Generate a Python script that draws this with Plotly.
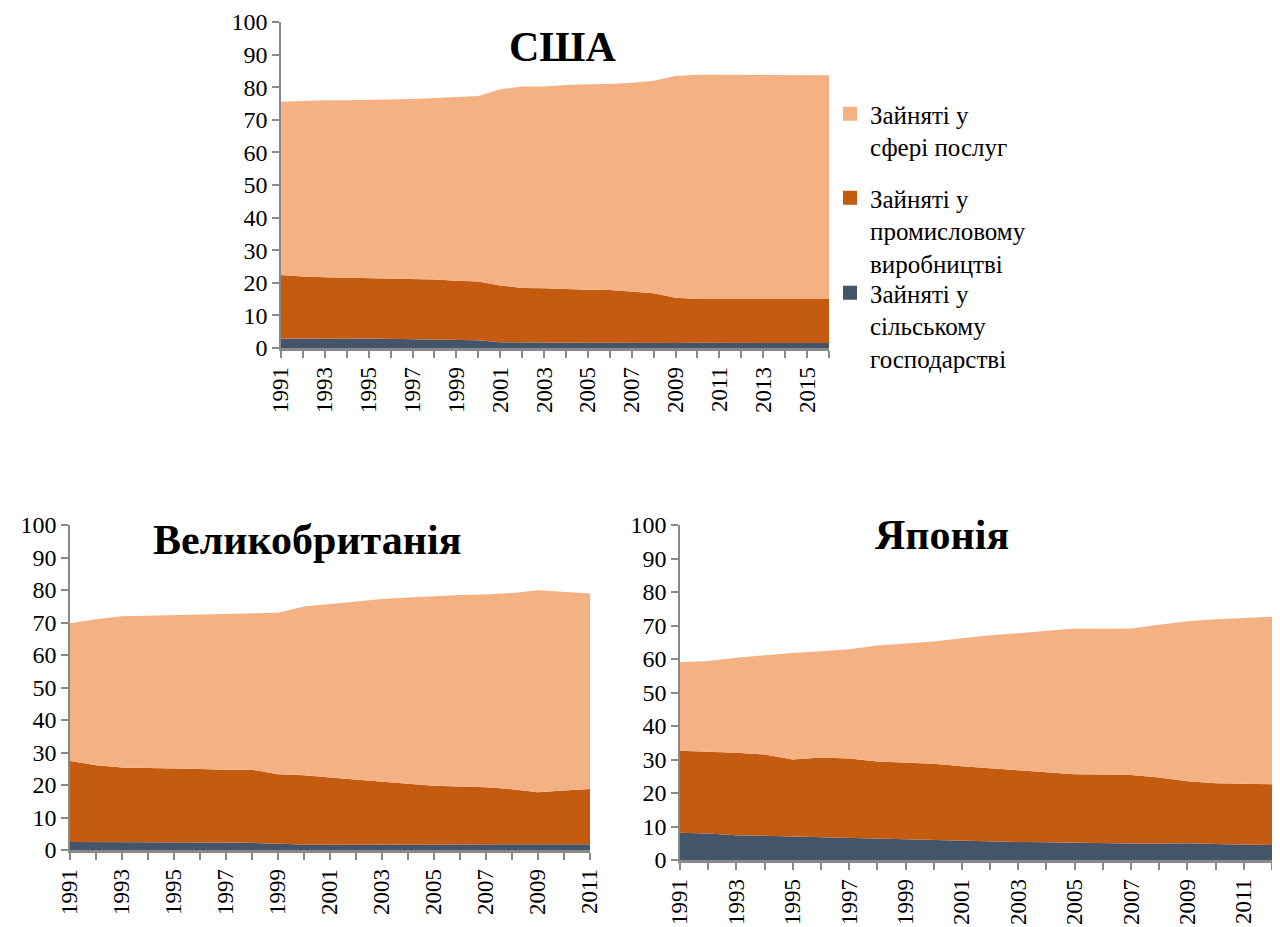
import plotly.graph_objects as go

# ---------------- data ----------------
years_us = list(range(1991, 2017))
us_agri = [2.9, 2.8, 2.8, 2.8, 2.9, 2.8, 2.7, 2.6, 2.5, 2.4, 1.8, 1.7, 1.7, 1.7, 1.6, 1.6,
           1.5, 1.5, 1.5, 1.6, 1.6, 1.5, 1.5, 1.5, 1.5, 1.5]
us_ind = [19.5, 19.1, 18.9, 18.8, 18.5, 18.4, 18.5, 18.4, 18.1, 18.0, 17.4, 16.7, 16.6, 16.3,
          16.3, 16.2, 15.9, 15.3, 13.9, 13.4, 13.4, 13.5, 13.5, 13.5, 13.6, 13.5]
us_serv = [53.1, 53.9, 54.3, 54.4, 54.7, 55.1, 55.2, 55.7, 56.4, 56.9, 60.2, 61.8, 61.9, 62.7,
           63.0, 63.2, 64.0, 65.2, 68.0, 68.8, 68.8, 68.8, 68.8, 68.8, 68.6, 68.7]

years_uk = list(range(1991, 2012))
uk_agri = [2.5, 2.5, 2.5, 2.4, 2.3, 2.3, 2.3, 2.2, 1.9, 1.7, 1.6, 1.6, 1.6, 1.6, 1.7, 1.6,
           1.6, 1.7, 1.8, 1.8, 1.8]
uk_ind = [24.9, 23.6, 22.9, 22.9, 22.9, 22.6, 22.4, 22.5, 21.4, 21.3, 20.7, 20.0, 19.3, 18.8,
          18.1, 17.9, 17.7, 17.0, 16.0, 16.5, 17.0]
uk_serv = [42.4, 44.9, 46.5, 46.8, 47.0, 47.6, 48.0, 48.1, 49.7, 51.9, 53.4, 54.9, 56.3, 57.3,
           58.3, 59.0, 59.3, 60.4, 62.1, 61.1, 60.1]

years_jp = list(range(1991, 2013))
jp_agri = [8.1, 7.9, 7.4, 7.2, 7.0, 6.7, 6.4, 6.3, 6.1, 5.9, 5.7, 5.4, 5.4, 5.3, 5.1, 5.1,
           4.9, 4.9, 5.0, 4.8, 4.7, 4.5]
jp_ind = [24.5, 24.5, 24.6, 24.3, 23.0, 23.9, 23.9, 23.1, 22.9, 22.8, 22.3, 21.9, 21.4, 20.9,
          20.5, 20.4, 20.5, 19.7, 18.5, 18.1, 18.0, 18.1]
jp_serv = [26.4, 27.0, 28.4, 29.7, 31.8, 31.7, 32.6, 34.6, 35.6, 36.5, 38.2, 39.8, 40.9, 42.3,
           43.5, 43.5, 43.7, 45.6, 47.8, 49.0, 49.6, 50.0]

series_names = ["Зайняті у<br>сільському<br>господарстві",
                "Зайняті у<br>промисловому<br>виробництві",
                "Зайняті у<br>сфері послуг"]
titles = ["США", "Великобританія", "Японія"]
y_ticks = [0, 10, 20, 30, 40, 50, 60, 70, 80, 90, 100]

# ---------------- style ----------------
colors = ["#44546A", "#C55A11", "#F4B183"]
FONT = "Liberation Serif"
AXIS_COL = "#898989"

# page has an 8px body margin: figure is placed at (8, 8) and reaches the window edges
W, H, OFF = 1272, 919, 8
def px(xr):
    return (xr - OFF) / W
def py(yr):
    return (H - (yr - OFF)) / H

fig = go.Figure()

panels = [
    (years_us, [us_agri, us_ind, us_serv], "x", "y"),
    (years_uk, [uk_agri, uk_ind, uk_serv], "x2", "y2"),
    (years_jp, [jp_agri, jp_ind, jp_serv], "x3", "y3"),
]
for i, (yrs, vals, xa, ya) in enumerate(panels):
    for name, v, c in zip(series_names, vals, colors):
        fig.add_trace(go.Scatter(
            x=yrs, y=v, name=name, mode="lines", line=dict(width=0, color=c),
            fillcolor=c, stackgroup="s%d" % i, showlegend=False,
            xaxis=xa, yaxis=ya, hoverinfo="x+y+name"))

legend_ids = ["legend3", "legend2", "legend"]
for name, c, lid in zip(series_names, colors, legend_ids):
    fig.add_trace(go.Scatter(
        x=[None], y=[None], mode="markers", name=name,
        marker=dict(symbol="square", size=14, color=c, line=dict(width=0)),
        legend=lid, showlegend=True, xaxis="x", yaxis="y", hoverinfo="skip"))

domains = [
    ([px(281), px(829)], [py(348), py(22)]),
    ([px(70), px(590)], [py(850), py(525)]),
    ([px(680), px(1272)], [py(860), py(525)]),
]
years_list = [years_us, years_uk, years_jp]

def leg(top_px):
    return dict(x=px(830), y=py(top_px), xanchor="left", yanchor="top",
                valign="top", font=dict(family=FONT, size=25, color="black"),
                itemwidth=30, bgcolor="rgba(0,0,0,0)", borderwidth=0)

layout = dict(
    width=W, height=H,
    margin=dict(l=0, r=0, t=0, b=0, autoexpand=False),
    paper_bgcolor="white", plot_bgcolor="white",
    font=dict(family=FONT, size=22, color="black"),
    showlegend=True,
    legend=leg(91), legend2=leg(175), legend3=leg(270),
)
for i, ((xd, yd), yrs) in enumerate(zip(domains, years_list)):
    sx = "" if i == 0 else str(i + 1)
    layout["xaxis" + sx] = dict(
        domain=xd, anchor="y" + sx, range=[yrs[0], yrs[-1]], automargin=False,
        tickvals=yrs, ticktext=[str(y) if (y - 1991) % 2 == 0 else "" for y in yrs],
        tickangle=-90, ticks="outside", ticklen=7, tickcolor=AXIS_COL, tickwidth=1.5,
        showline=True, linecolor=AXIS_COL, linewidth=2.5, showgrid=False, zeroline=False,
        tickfont=dict(family=FONT, size=23, color="black"), fixedrange=True)
    layout["yaxis" + sx] = dict(
        domain=yd, anchor="x" + sx, range=[0, 100], tickvals=y_ticks, automargin=False,
        ticks="outside", ticklen=7, tickcolor=AXIS_COL, tickwidth=1.5,
        showline=True, linecolor=AXIS_COL, linewidth=1.5, showgrid=False, zeroline=False,
        tickfont=dict(family=FONT, size=24, color="black"), fixedrange=True)

fig.update_layout(**layout)

title_pos = [(562, 47), (307, 540), (942, 535)]
for t, (tx, ty) in zip(titles, title_pos):
    fig.add_annotation(text="<b>%s</b>" % t, x=px(tx), y=py(ty),
                       xref="paper", yref="paper", showarrow=False,
                       xanchor="center", yanchor="middle",
                       font=dict(family=FONT, size=42, color="black"))

fig.write_html("out.html")
